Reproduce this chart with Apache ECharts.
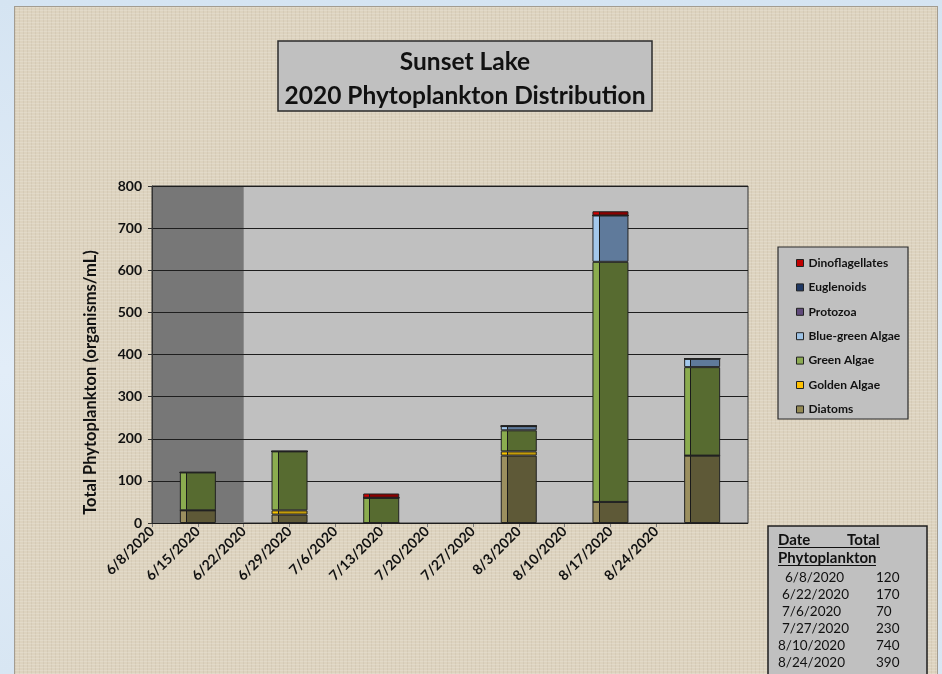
<!DOCTYPE html>
<html>
<head>
<meta charset="utf-8">
<title>Sunset Lake 2020 Phytoplankton Distribution</title>
<script src="https://cdn.jsdelivr.net/npm/echarts@6/dist/echarts.min.js"></script>
<style>
  html, body { margin: 0; padding: 0; }
  #page {
    position: relative; width: 942px; height: 674px; overflow: hidden;
    background: linear-gradient(180deg, #d5e4f2 0%, #e2edf8 55%, #d8e6f3 100%);
  }
  #panel {
    position: absolute; left: 14px; top: 6px; width: 922px; height: 700px;
    background-color: #ddd3bf; border: 1px solid #a39c90;
    background-image:
      repeating-linear-gradient(0deg, rgba(255,255,255,0.16) 0 1px, transparent 1px 3px),
      repeating-linear-gradient(90deg, rgba(110,95,70,0.08) 0 1px, transparent 1px 4px);
  }
  #chart { position: absolute; left: 0; top: 0; width: 942px; height: 674px; }
</style>
</head>
<body>
<div id="page">
  <div id="panel"></div>
  <div id="chart"></div>
</div>
<script>
// weekly category axis (bars sit one week after the sample date, as in the original sheet)
var weeks = ['6/8/2020', '6/15/2020', '6/22/2020', '6/29/2020', '7/6/2020', '7/13/2020', '7/20/2020',
  '7/27/2020', '8/3/2020', '8/10/2020', '8/17/2020', '8/24/2020', '8/31/2020', '9/7/2020']
var labelCount = 12

var diatoms = ['-', 30, '-', 20, '-', 0, '-', '-', 160, '-', 50, '-', 160, '-']
var goldenAlgae = ['-', 0, '-', 10, '-', 0, '-', '-', 10, '-', 0, '-', 0, '-']
var greenAlgae = ['-', 90, '-', 140, '-', 60, '-', '-', 50, '-', 570, '-', 210, '-']
var blueGreenAlgae = ['-', 0, '-', 0, '-', 0, '-', '-', 10, '-', 110, '-', 20, '-']
var protozoa = ['-', 0, '-', 0, '-', 0, '-', '-', 0, '-', 0, '-', 0, '-']
var euglenoids = ['-', 0, '-', 0, '-', 0, '-', '-', 0, '-', 0, '-', 0, '-']
var dinoflagellates = ['-', 0, '-', 0, '-', 10, '-', '-', 0, '-', 10, '-', 0, '-']

// summary table
var sampleDates = ['6/8/2020', '6/22/2020', '7/6/2020', '7/27/2020', '8/10/2020', '8/24/2020']
var totals = [120, 170, 70, 230, 740, 390]

var FONT = 'Lato, "Open Sans", "DejaVu Sans", sans-serif'

// excel-ish look: light strip on the left, dark face
function barFill(light, dark) {
  return new echarts.graphic.LinearGradient(0, 0, 1, 0, [
    { offset: 0, color: light },
    { offset: 0.17, color: light },
    { offset: 0.17, color: '#1a1a1a' },
    { offset: 0.2, color: '#1a1a1a' },
    { offset: 0.2, color: dark },
    { offset: 1, color: dark }
  ])
}

var groups = [
  { name: 'Diatoms', data: diatoms, light: '#9b8f5f', dark: '#5e5937', icon: '#948a54' },
  { name: 'Golden Algae', data: goldenAlgae, light: '#f7c300', dark: '#c49c0a', icon: '#ffc000' },
  { name: 'Green Algae', data: greenAlgae, light: '#8bac4f', dark: '#576b30', icon: '#8cab52' },
  { name: 'Blue-green Algae', data: blueGreenAlgae, light: '#a3c8ec', dark: '#5f7a9b', icon: '#9dc3e6' },
  { name: 'Protozoa', data: protozoa, light: '#7b6596', dark: '#4a3b60', icon: '#604a7b' },
  { name: 'Euglenoids', data: euglenoids, light: '#2c4c7c', dark: '#1c2e4c', icon: '#1f3864' },
  { name: 'Dinoflagellates', data: dinoflagellates, light: '#d20000', dark: '#8c0000', icon: '#c00000' }
]

var series = groups.map(function(g, i) {
  var s = {
    name: g.name,
    type: 'bar',
    stack: 'total',
    barWidth: 36,
    z: 3,
    data: g.data,
    itemStyle: { color: barFill(g.light, g.dark), borderColor: '#222', borderWidth: 1 }
  }
  if (i === 0) {
    // dark shaded band at the start of the season (end category is extended by one band)
    s.markArea = {
      silent: true,
      z: 1,
      itemStyle: { color: '#777777', opacity: 1 },
      data: [[{ xAxis: '6/8/2020' }, { xAxis: '6/15/2020' }]]
    }
  }
  return s
})

var legendData = groups.slice().reverse().map(function(g) {
  return { name: g.name, itemStyle: { color: g.icon, borderColor: '#222', borderWidth: 1 } }
})

// title, legend frame and table
var graphics = [
  { type: 'rect', shape: { x: 278, y: 41, width: 374, height: 70 }, style: { fill: '#c0c0c0', stroke: '#2b2b2b', lineWidth: 1.5 } },
  { type: 'text', x: 465, y: 62, style: { text: 'Sunset Lake', align: 'center', verticalAlign: 'middle', fontFamily: FONT, fontWeight: 'bold', fontSize: 24.5, fill: '#111' } },
  { type: 'text', x: 465, y: 96, style: { text: '2020 Phytoplankton Distribution', align: 'center', verticalAlign: 'middle', fontFamily: FONT, fontWeight: 'bold', fontSize: 24.5, fill: '#111' } },
  { type: 'rect', shape: { x: 778, y: 247, width: 130, height: 172 }, style: { fill: '#c0c0c0', stroke: '#2b2b2b', lineWidth: 1.2 } },
  { type: 'rect', shape: { x: 768, y: 526, width: 159, height: 160 }, style: { fill: '#c0c0c0', stroke: '#1e1e1e', lineWidth: 1.5 } },
  { type: 'text', x: 778, y: 540, style: { text: 'Date', align: 'left', verticalAlign: 'middle', fontFamily: FONT, fontWeight: 'bold', fontSize: 15, fill: '#111' } },
  { type: 'text', x: 847, y: 540, style: { text: 'Total', align: 'left', verticalAlign: 'middle', fontFamily: FONT, fontWeight: 'bold', fontSize: 15, fill: '#111' } },
  { type: 'line', shape: { x1: 778, y1: 547.5, x2: 880, y2: 547.5 }, style: { stroke: '#111', lineWidth: 1.2 } },
  { type: 'text', x: 778, y: 558, style: { text: 'Phytoplankton', align: 'left', verticalAlign: 'middle', fontFamily: FONT, fontWeight: 'bold', fontSize: 15, fill: '#111' } },
  { type: 'line', shape: { x1: 778, y1: 565.5, x2: 876, y2: 565.5 }, style: { stroke: '#111', lineWidth: 1.2 } }
]
var rowIndent = [7, 4, 4, 4, 0, 0]
sampleDates.forEach(function(d, i) {
  var y = 578 + i * 17
  graphics.push({ type: 'text', x: 778 + rowIndent[i], y: y, style: { text: d, align: 'left', verticalAlign: 'middle', fontFamily: FONT, fontSize: 13.5, fill: '#111' } })
  graphics.push({ type: 'text', x: 876, y: y, style: { text: String(totals[i]), align: 'left', verticalAlign: 'middle', fontFamily: FONT, fontSize: 13.5, fill: '#111' } })
})

var chart = echarts.init(document.getElementById('chart'))
chart.setOption({
  backgroundColor: 'transparent',
  animation: false,
  textStyle: { fontFamily: FONT },
  grid: {
    left: 152,
    top: 186,
    width: 596,
    height: 337,
    show: true,
    backgroundColor: '#c0c0c0',
    borderColor: '#333',
    borderWidth: 1
  },
  legend: {
    orient: 'vertical',
    left: 791,
    top: 252,
    icon: 'rect',
    itemWidth: 7,
    itemHeight: 7,
    itemGap: 12.4,
    selectedMode: false,
    textStyle: { fontFamily: FONT, fontWeight: 'bold', fontSize: 12, color: '#111', lineHeight: 12 },
    data: legendData
  },
  xAxis: {
    type: 'category',
    data: weeks,
    boundaryGap: false,
    axisLine: { lineStyle: { color: '#7a7a7a', width: 1 } },
    axisTick: {
      interval: function(index) { return index < labelCount },
      length: 4,
      lineStyle: { color: '#7a7a7a' }
    },
    axisLabel: {
      interval: function(index) { return index < labelCount },
      rotate: 45,
      margin: 6,
      fontFamily: FONT,
      fontWeight: 'bold',
      fontSize: 14,
      color: '#111'
    },
    splitLine: { show: false }
  },
  yAxis: {
    type: 'value',
    min: 0,
    max: 800,
    interval: 100,
    z: 2,
    name: 'Total Phytoplankton (organisms/mL)',
    nameLocation: 'middle',
    nameGap: 53,
    nameTextStyle: { fontFamily: FONT, fontWeight: 'bold', fontSize: 16.5, color: '#111', padding: [0, 56, 0, 0] },
    axisLine: { show: true, lineStyle: { color: '#333' } },
    axisTick: { show: true, length: 4, lineStyle: { color: '#333' } },
    axisLabel: { margin: 10, fontFamily: FONT, fontWeight: 'bold', fontSize: 14, color: '#111' },
    splitLine: { lineStyle: { color: '#1e1e1e', width: 1.2 } }
  },
  graphic: graphics,
  series: series
})
</script>
</body>
</html>
